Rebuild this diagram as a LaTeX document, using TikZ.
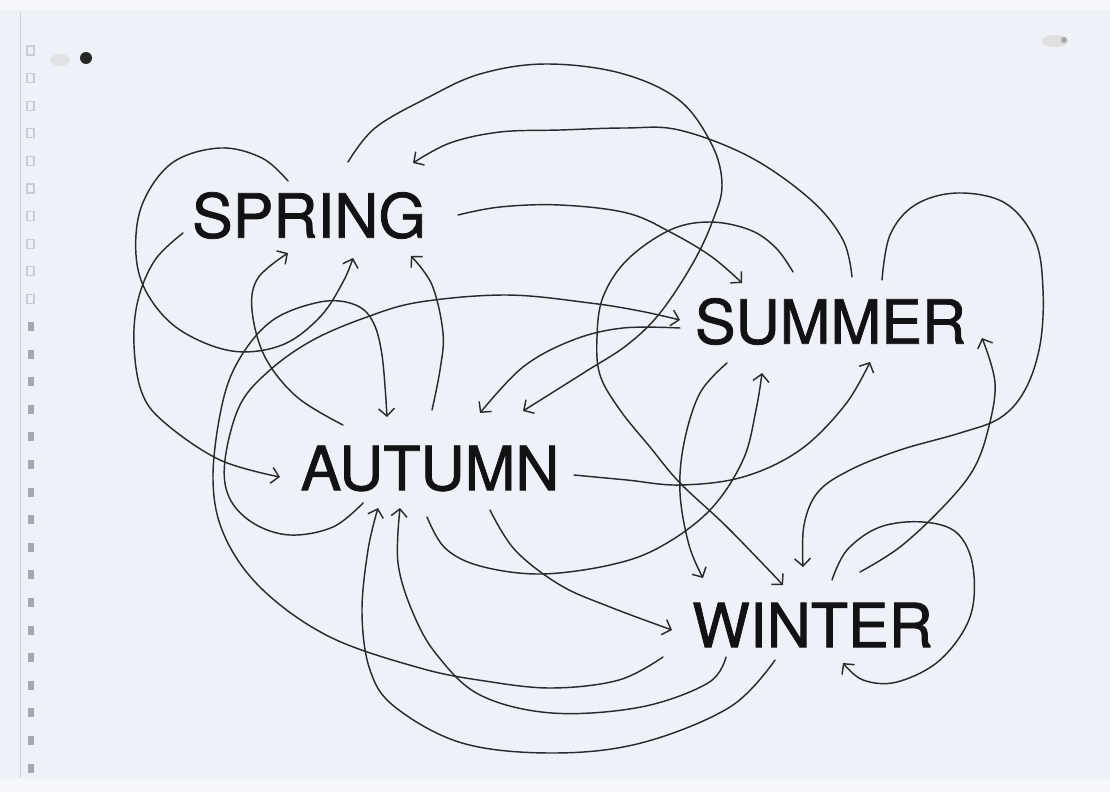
\documentclass[tikz,border=0pt]{standalone}
\usepackage{fontspec}
\setmainfont{TeX Gyre Heros}
\newfontfamily\seasonfont{TeX Gyre Heros}[FakeBold=1.2]
\usetikzlibrary{arrows.meta}
\definecolor{paper}{RGB}{238,241,247}
\definecolor{paperedge}{RGB}{246,247,250}
\definecolor{edgeline}{RGB}{205,208,215}
\definecolor{ink}{RGB}{42,42,46}
\definecolor{textink}{RGB}{18,18,20}
\definecolor{holeline}{RGB}{200,204,212}
\definecolor{holefill}{RGB}{165,168,175}
\begin{document}
\begin{tikzpicture}[x=1pt,y=-1pt,
  season/.style={font=\seasonfont\fontsize{61}{61}\selectfont, text=textink, inner sep=0pt},
  link/.style={draw=ink, line width=1.45pt, line cap=round, line join=round,
    -{Straight Barb[length=7.5pt,width=16pt,line width=1.45pt]}},
  curve/.style={smooth, tension=0.6}]
\fill[paper] (0,0) rectangle (1110,792);
\useasboundingbox (0,0) rectangle (1110,792);
% paper edges
\fill[paperedge] (0,0) rectangle (1110,10);
\fill[paperedge] (0,779) rectangle (1110,792);
\draw[edgeline, line width=1pt] (20,12) -- (20,778);
% binding holes
\foreach \i in {0,...,9} \draw[holeline, line width=1.2pt] (27,{46+27.6*\i}) rectangle ++(7,9);
\foreach \i in {10,...,26} \fill[holefill] (28,{46+27.6*\i}) rectangle ++(6,9);
% marks
\fill[gray!30, opacity=0.6] (60,60) ellipse [x radius=10, y radius=6];
\fill[black!85] (86,58) circle [radius=6];
\fill[gray!25] (1055,41) ellipse [x radius=13, y radius=6];
\fill[gray!70] (1064,40) circle [radius=3];

% season nodes
\node[season] (spring) at (309,215.5) {SPRING};
\node[season] (summer) at (830.5,321.5) {SUMMER};
\node[season] (autumn) at (430,468.5) {AUTUMN};
\node[season] (winter) at (812.5,625) {WINTER};

% connector end points
\coordinate (s1a) at (288,181);  \coordinate (s1b) at (353,258);
\coordinate (s2a) at (348,162);  \coordinate (s2b) at (523,411);
\coordinate (s3a) at (183,233);  \coordinate (s3b) at (280,477);
\coordinate (s4a) at (458,215);  \coordinate (s4b) at (742,283);
\coordinate (u1a) at (793,272);  \coordinate (u1b) at (783,585);
\coordinate (u2a) at (852,277);  \coordinate (u2b) at (413,163);
\coordinate (u3a) at (882,280);  \coordinate (u3b) at (803,567);
\coordinate (u4a) at (680,328);  \coordinate (u4b) at (480,413);
\coordinate (u5a) at (727,363);  \coordinate (u5b) at (703,578);
\coordinate (a1a) at (343,425);  \coordinate (a1b) at (288,253);
\coordinate (a2a) at (432,410);  \coordinate (a2b) at (411,256);
\coordinate (a3a) at (363,503);  \coordinate (a3b) at (680,320);
\coordinate (a4a) at (427,517);  \coordinate (a4b) at (762,373);
\coordinate (a5a) at (490,510);  \coordinate (a5b) at (672,630);
\coordinate (a6a) at (574,475);  \coordinate (a6b) at (870,362);
\coordinate (w1a) at (663,657);  \coordinate (w1b) at (387,417);
\coordinate (w2a) at (726,657);  \coordinate (w2b) at (400,508);
\coordinate (w3a) at (775,660);  \coordinate (w3b) at (378,508);
\coordinate (w4a) at (832,580);  \coordinate (w4b) at (843,663);
\coordinate (w5a) at (860,572);  \coordinate (w5b) at (982,338);

% SPRING connectors
\draw[link] plot[curve] coordinates {(s1a) (262,158) (220,148) (172,163) (142,205) (136,255) (148,295) (180,330) (232,351) (282,345) (320,317) (343,282) (s1b)};
\draw[link] plot[curve] coordinates {(s2a) (375,128) (427,98) (480,74) (545,64) (620,73) (679,100) (712,145) (722,185) (713,220) (693,263) (660,313) (627,345) (585,372) (s2b)};
\draw[link] plot[curve] coordinates {(s3a) (155,260) (138,300) (134,345) (142,393) (165,423) (220,460) (s3b)};
\draw[link] plot[curve] coordinates {(s4a) (500,207) (560,205) (627,213) (672,233) (712,257) (s4b)};
% SUMMER connectors
\draw[link] plot[curve] coordinates {(u1a) (776,248) (750,230) (710,222) (670,230) (627,260) (603,297) (597,337) (600,375) (620,410) (650,447) (680,483) (727,527) (u1b)};
\draw[link] plot[curve] coordinates {(u2a) (843,240) (811,200) (750,157) (679,130) (625,128) (560,130) (500,132) (450,143) (u2b)};
\draw[link] plot[curve] coordinates {(u3a) (890,235) (915,205) (957,193) (1005,203) (1035,240) (1043,290) (1040,345) (1025,390) (1000,418) (960,433) (900,450) (850,470) (818,492) (804,525) (u3b)};
\draw[link] plot[curve] coordinates {(u4a) (623,328) (573,340) (523,367) (u4b)};
\draw[link] plot[curve] coordinates {(u5a) (700,393) (684,443) (680,493) (689,545) (u5b)};
% AUTUMN connectors
\draw[link] plot[curve] coordinates {(a1a) (297,397) (265,357) (252,310) (258,278) (a1b)};
\draw[link] plot[curve] coordinates {(a2a) (440,370) (443,333) (432,285) (a2b)};
\draw[link] plot[curve] coordinates {(a3a) (333,527) (290,535) (253,523) (229,497) (225,460) (240,405) (270,370) (313,340) (367,317) (420,302) (507,295) (590,303) (640,311) (a3b)};
\draw[link] plot[curve] coordinates {(a4a) (445,548) (480,566) (540,574) (610,565) (660,547) (710,510) (743,460) (756,410) (a4b)};
\draw[link] plot[curve] coordinates {(a5a) (515,550) (560,585) (610,607) (a5b)};
\draw[link] plot[curve] coordinates {(a6a) (627,480) (680,485) (743,477) (800,450) (845,405) (a6b)};
% WINTER connectors
\draw[link] plot[curve] coordinates {(w1a) (619,680) (552,688) (485,681) (420,668) (330,637) (263,590) (225,537) (213,480) (222,405) (240,358) (273,320) (320,302) (353,304) (372,320) (382,355) (w1b)};
\draw[link] plot[curve] coordinates {(w2a) (708,683) (641,707) (552,713) (480,695) (437,655) (413,613) (398,563) (w2b)};
\draw[link] plot[curve] coordinates {(w3a) (730,707) (641,743) (552,753) (462,743) (395,707) (370,670) (362,613) (368,550) (w3b)};
\draw[link] plot[curve] coordinates {(w4a) (847,550) (880,527) (923,522) (957,533) (973,567) (970,617) (940,660) (897,682) (863,680) (w4b)};
\draw[link] plot[curve] coordinates {(w5a) (900,547) (943,507) (973,470) (988,430) (995,383) (w5b)};
\end{tikzpicture}
\end{document}
